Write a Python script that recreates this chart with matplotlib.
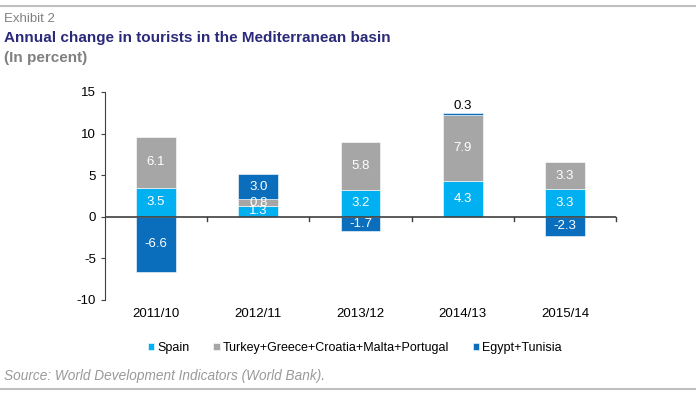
import numpy as np
import matplotlib.pyplot as plt

plt.rcParams['font.family'] = ['Liberation Sans', 'DejaVu Sans']
plt.rcParams['axes.unicode_minus'] = False

categories = ["2011/10", "2012/11", "2013/12", "2014/13", "2015/14"]
spain = [3.5, 1.3, 3.2, 4.3, 3.3]
turkey_etc = [6.1, 0.8, 5.8, 7.9, 3.3]
egypt_tunisia = [-6.6, 3.0, -1.7, 0.3, -2.3]

series = [
    ("Spain", spain, "#00b0f0"),
    ("Turkey+Greece+Croatia+Malta+Portugal", turkey_etc, "#a6a6a6"),
    ("Egypt+Tunisia", egypt_tunisia, "#0a6ebd"),
]

fig = plt.figure(figsize=(6.96, 3.94), dpi=100)
ax = fig.add_axes([105 / 696, 1 - 300 / 394, (616 - 105) / 696, (300 - 92) / 394])

x = np.arange(len(categories))
pos_base = np.zeros(len(categories))
neg_base = np.zeros(len(categories))
for name, vals, col in series:
    vals = np.array(vals)
    bottoms = np.where(vals >= 0, pos_base, neg_base)
    ax.bar(x, vals, 0.39, bottom=bottoms, color=col, label=name,
           edgecolor="white", linewidth=0.4, zorder=2)
    for xi, v, b in zip(x, vals, bottoms):
        if abs(v) < 0.5:
            ax.text(xi, b + v + 0.15, f"{v:.1f}", ha="center", va="bottom",
                    fontsize=9.5, color="black")
        else:
            ax.text(xi, b + v / 2, f"{v:.1f}", ha="center", va="center",
                    fontsize=9.5, color="white")
    pos_base += np.where(vals >= 0, vals, 0)
    neg_base += np.where(vals < 0, vals, 0)

ax.set_xlim(-0.5, len(categories) - 0.5)
ax.set_ylim(-10, 15)
ax.set_yticks([-10, -5, 0, 5, 10, 15])
ax.tick_params(axis="y", labelsize=9.5, length=3, direction="out", color="#404040")
ax.set_xticks(x)
ax.set_xticklabels(categories, fontsize=9.5)
ax.tick_params(axis="x", length=0, pad=6)
for b in np.arange(0.5, len(categories), 1.0):
    ax.plot([b, b], [0, -0.5], color="#404040", lw=1, zorder=3, clip_on=False)
ax.axhline(0, color="#404040", lw=1.2, zorder=3)
for s in ["top", "right", "bottom"]:
    ax.spines[s].set_visible(False)
ax.spines["left"].set_color("#404040")

handles, labels = ax.get_legend_handles_labels()
fig.legend(handles, labels, loc="center", bbox_to_anchor=(355 / 696, 1 - 348 / 394),
           ncol=3, frameon=False, fontsize=9, handlelength=0.5, handleheight=0.5,
           handletextpad=0.25, columnspacing=1.9)

fig.add_artist(plt.Line2D([0, 1], [1 - 6 / 394, 1 - 6 / 394], color="#c0c0c0", lw=1.5))
fig.add_artist(plt.Line2D([0, 1], [1 - 389 / 394, 1 - 389 / 394], color="#c0c0c0", lw=1.5))
fig.text(4 / 696, 1 - 19 / 394, "Exhibit 2", fontsize=9.5, color="#808080", va="center")
fig.text(4 / 696, 1 - 38 / 394, "Annual change in tourists in the Mediterranean basin",
         fontsize=11, fontweight="bold", color="#2b2a7a", va="center")
fig.text(4 / 696, 1 - 58 / 394, "(In percent)", fontsize=11, fontweight="bold",
         color="#808080", va="center")
fig.text(4 / 696, 1 - 376 / 394, "Source: World Development Indicators (World Bank).",
         fontsize=9.8, style="italic", color="#999999", va="center")

fig.savefig("out.png", dpi=100)
